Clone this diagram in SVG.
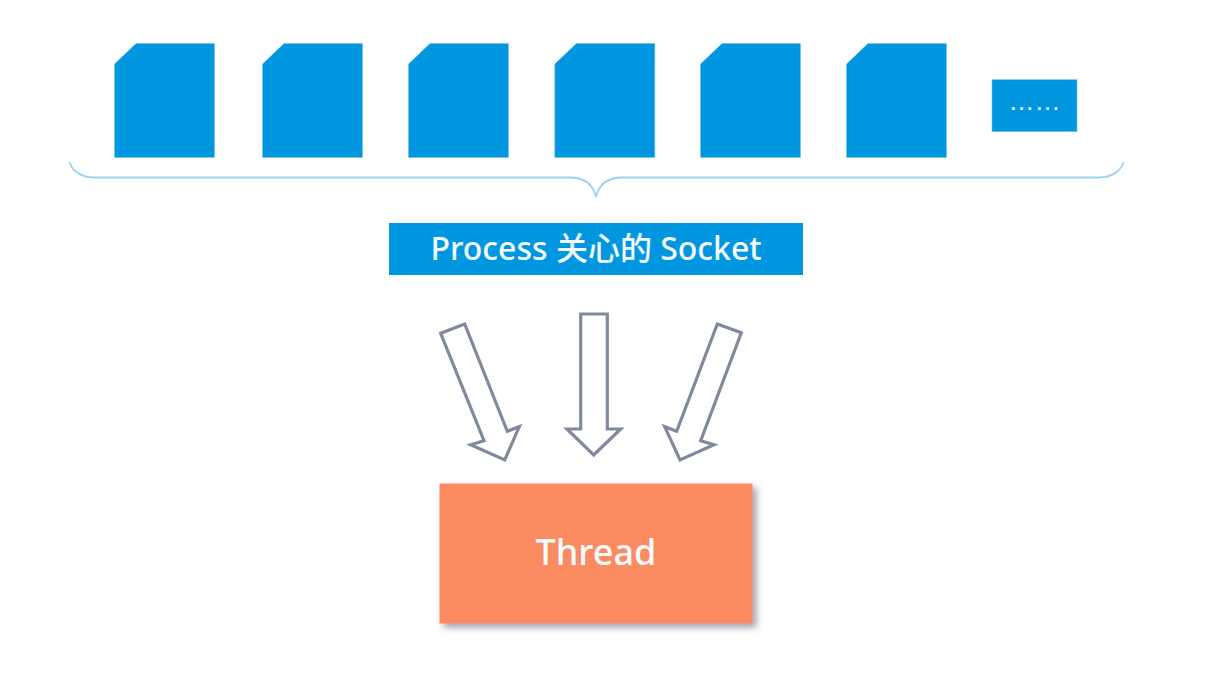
<svg xmlns="http://www.w3.org/2000/svg" width="1230" height="682" viewBox="0 0 1230 682">
<style>
.blue{fill:#0097e0}
.card{fill:#0097e0;stroke:#6cc3ee;stroke-width:.6}
.label{fill:#f4fbff;font-family:"Noto Sans","Noto Sans CJK SC",sans-serif;text-anchor:middle;font-weight:500}
.arrow{fill:#fff;stroke:#808a9c;stroke-width:3.200;stroke-linejoin:miter}
.brace{fill:none;stroke:#9dd3f0;stroke-width:1.800}
</style>
<defs>
<path id="doc" d="M0 20.500L21.500 0H100V114H0Z"/>
<filter id="shadow" x="-10%" y="-10%" width="125%" height="125%"><feDropShadow dx="4" dy="4" stdDeviation="3.500" flood-color="#5a6270" flood-opacity=".6"/></filter>
</defs>
<rect width="1230" height="682" fill="#fff"/>
<g id="socket-1"><use href="#doc" class="card" x="114.500" y="43.500"/></g>
<g id="socket-2"><use href="#doc" class="card" x="262.500" y="43.500"/></g>
<g id="socket-3"><use href="#doc" class="card" x="408.500" y="43.500"/></g>
<g id="socket-4"><use href="#doc" class="card" x="554.800" y="43.500"/></g>
<g id="socket-5"><use href="#doc" class="card" x="700.500" y="43.500"/></g>
<g id="socket-6"><use href="#doc" class="card" x="846.500" y="43.500"/></g>
<g id="more"><rect class="card" x="992" y="79.700" width="85" height="52"/><text class="label" x="1034.500" y="109.500" font-size="26" style="font-family:'Liberation Sans',sans-serif;font-weight:400">……</text></g>
<g id="process-label"><rect class="blue" x="389" y="223" width="414" height="52"/><text class="label" x="596" y="259.500" font-size="32">Process 关心的 Socket</text></g>
<g id="thread"><rect x="439.500" y="483.500" width="313" height="140" fill="#fb8c62" filter="url(#shadow)"/><text class="label" x="596" y="565" font-size="36">Thread</text></g>
<g id="connectors">
<path class="brace" d="M69.500 162C72 171 81 177.500 95 177.500H570C584 177.500 593 184 596 197C599 184 608 177.500 622 177.500H1098C1112 177.500 1121 171 1123.500 162"/>
<polygon class="arrow" points="440.700,333.300 464.700,324 507.300,431.300 519.300,426.700 504.700,460 470.700,444.700 484,440.700"/>
<polygon class="arrow" points="580.700,314 607.300,314 607.300,429 620.700,429 593.700,455 567,429 580.700,429"/>
<polygon class="arrow" points="717.300,324 741.300,332.700 700.700,440.700 714,444.700 680,460 664.700,426.700 676.700,431.300"/>
</g>
</svg>
